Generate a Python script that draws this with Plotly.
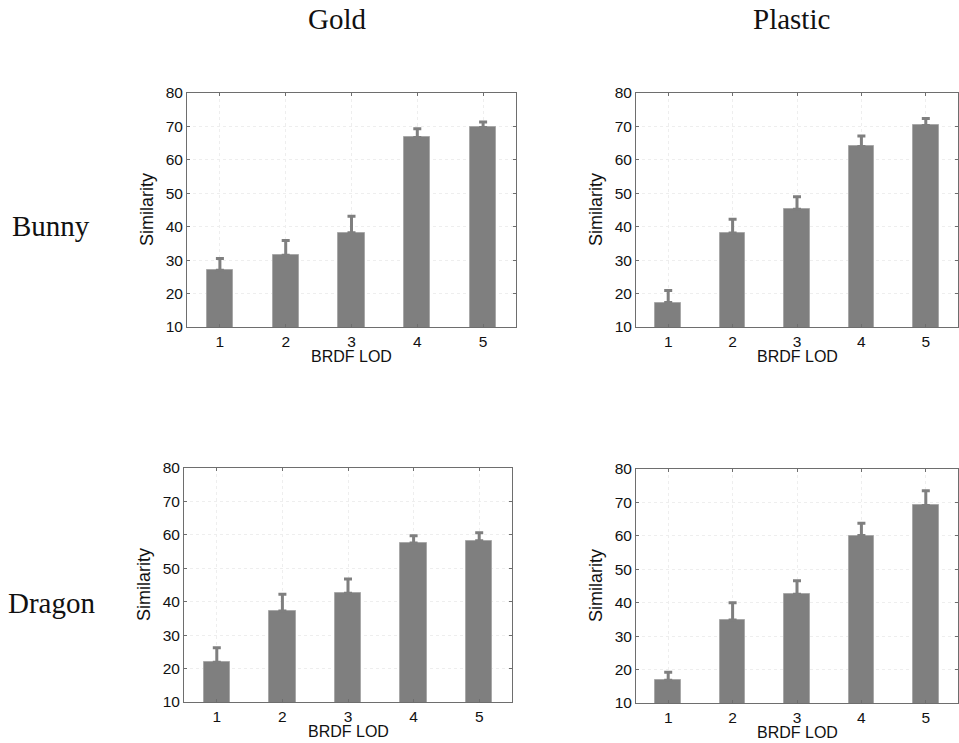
import plotly.graph_objects as go

lod = [1, 2, 3, 4, 5]
gold_bunny = [27.0, 31.5, 38.2, 66.7, 69.7]
gold_bunny_err = [3.5, 4.4, 4.9, 2.6, 1.6]
plastic_bunny = [17.3, 38.1, 45.2, 64.0, 70.3]
plastic_bunny_err = [3.6, 4.1, 3.8, 3.1, 2.1]
gold_dragon = [21.9, 37.2, 42.5, 57.6, 58.2]
gold_dragon_err = [4.3, 5.0, 4.3, 2.1, 2.4]
plastic_dragon = [16.8, 34.8, 42.5, 60.1, 69.1]
plastic_dragon_err = [2.4, 5.2, 4.1, 3.7, 4.4]

col_titles = ["Gold", "Plastic"]
row_titles = ["Bunny", "Dragon"]
y_ticks = [10, 20, 30, 40, 50, 60, 70, 80]

W, H = 959, 743
# plot areas in pixels: (left, right, top, bottom)
boxes = [(187, 516, 93, 327), (636, 958, 93, 327),
         (184, 512, 468, 702), (636, 958, 469, 703)]
series = [(gold_bunny, gold_bunny_err), (plastic_bunny, plastic_bunny_err),
          (gold_dragon, gold_dragon_err), (plastic_dragon, plastic_dragon_err)]

fig = go.Figure()
annotations = []
bar_color = "#7f7f7f"
axis_color = "#6e6e6e"
sans = "Liberation Sans, Arial, sans-serif"
tick_font = dict(family=sans, size=15.5, color="#111")

for i, ((l, r, t, b), (vals, errs)) in enumerate(zip(boxes, series)):
    n = "" if i == 0 else str(i + 1)
    fig.add_trace(go.Bar(
        x=lod, y=vals, base=0, width=0.4,
        marker=dict(color=bar_color, line=dict(color="#a8a8a8", width=1)),
        error_y=dict(type="data", symmetric=False, array=errs,
                     arrayminus=[0] * len(errs), color=bar_color,
                     thickness=3, width=4),
        xaxis="x" + n, yaxis="y" + n, showlegend=False))
    xd = [l / W, r / W]
    yd = [1 - b / H, 1 - t / H]
    common = dict(showline=True, linecolor=axis_color, linewidth=1, mirror="ticks",
                  ticks="inside", ticklen=3, tickcolor=axis_color,
                  showgrid=True, gridcolor="#eeeeee", griddash="dot", gridwidth=1,
                  zeroline=False, tickfont=tick_font, automargin=False)
    fig.update_layout(**{
        "xaxis" + n: dict(domain=xd, anchor="y" + n, range=[0.5, 5.5],
                          tickvals=lod, ticktext=[str(v) for v in lod], **common),
        "yaxis" + n: dict(domain=yd, anchor="x" + n, range=[10, 80],
                          tickvals=y_ticks, **common),
    })
    annotations.append(dict(text="BRDF LOD", x=(l + r) / 2 / W, y=1 - (b + 29) / H,
                            xref="paper", yref="paper", showarrow=False,
                            xanchor="center", yanchor="middle",
                            font=dict(family=sans, size=16, color="#111")))
    annotations.append(dict(text="Similarity", x=(l - 40) / W, y=1 - (t + b) / 2 / H,
                            xref="paper", yref="paper", showarrow=False, textangle=-90,
                            xanchor="center", yanchor="middle",
                            font=dict(family=sans, size=18, color="#111")))

serif = dict(family="Liberation Serif, Times New Roman, serif", size=29, color="#111")
for txt, xc in zip(col_titles, [337, 791]):
    annotations.append(dict(text=txt, x=xc / W, y=1 - 19 / H, xref="paper", yref="paper",
                            showarrow=False, xanchor="center", yanchor="middle", font=serif))
for txt, yc, xc in zip(row_titles, [226, 603], [51, 51]):
    annotations.append(dict(text=txt, x=xc / W, y=1 - yc / H, xref="paper", yref="paper",
                            showarrow=False, xanchor="center", yanchor="middle", font=serif))

fig.update_layout(width=W, height=H, margin=dict(l=0, r=0, t=0, b=0, autoexpand=False),
                  plot_bgcolor="white", paper_bgcolor="white", template="none",
                  annotations=annotations, bargap=0)
fig.write_html("out.html", config={"displayModeBar": False},
               post_script="document.body.style.margin='0';document.body.style.overflow='hidden';"
                           "document.documentElement.style.overflow='hidden';")
